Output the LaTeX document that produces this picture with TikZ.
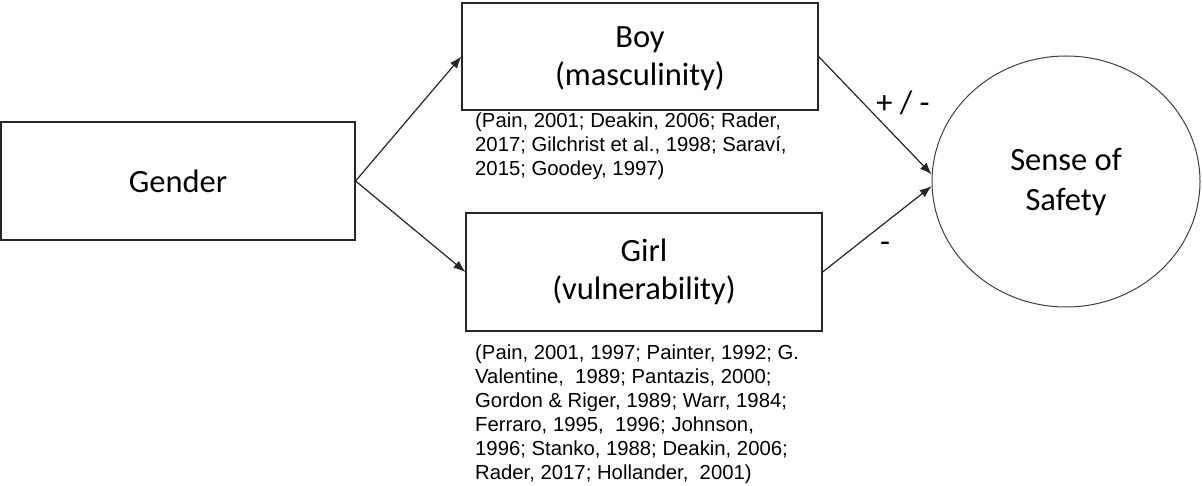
\documentclass[tikz,border=0pt]{standalone}
\usepackage{fontspec}
\setmainfont{Carlito}
\newfontfamily\reffont{Liberation Sans}
\usetikzlibrary{arrows.meta,shapes.geometric}

\begin{document}
\begin{tikzpicture}[x=1pt, y=-1pt,
        box/.style={rectangle, draw=black!85, line width=1.2pt, fill=white, align=center, font=\fontsize{32.5}{38}\selectfont},
        refs/.style={anchor=north west, inner sep=0pt, align=left, font=\reffont\fontsize{20.3}{24}\selectfont},
        link/.style={draw=black!85, line width=1.2pt, -{Latex[length=12pt, width=9pt]}},
        sign/.style={font=\fontsize{32.5}{38}\selectfont}]
            \useasboundingbox (0,0) rectangle (1203,486);

            \node[box, minimum width=354pt, minimum height=118pt] (gender) at (178,181) {Gender};
            \node[box, minimum width=356pt, minimum height=107pt, text depth=-2pt] (boy) at (640,56.5) {Boy\\(masculinity)};
            \node[box, minimum width=356pt, minimum height=118pt] (girl) at (644,272) {Girl\\(vulnerability)};
            \node[ellipse, draw=black!75, line width=1pt, minimum width=268pt, minimum height=251pt, align=center, font=\fontsize{32.5}{40}\selectfont] (safety) at (1066,181.5) {Sense of\\Safety};

            \node[refs] (boyrefs) at (475,113) {(Pain, 2001; Deakin, 2006; Rader,\\2017; Gilchrist et al., 1998; Saraví,\\2015; Goodey, 1997)};
            \node[refs] (girlrefs) at (475,345) {(Pain, 2001, 1997; Painter, 1992; G.\\Valentine, \ 1989; Pantazis, 2000;\\Gordon \& Riger, 1989; Warr, 1984;\\Ferraro, 1995, \ 1996; Johnson,\\1996; Stanko, 1988; Deakin, 2006;\\Rader, 2017; Hollander, \ 2001)};

            \draw[link] (gender.east) -- (boy.west);
            \draw[link] (gender.east) -- (girl.west);
            \draw[link] (boy.east) -- (safety.177.4);
            \draw[link] (girl.east) -- (safety.182.6);

            \node[sign] (plusminus) at (903,103) {+ / -};
            \node[sign] (minus) at (885,247) {-};
        \end{tikzpicture}
\end{document}
